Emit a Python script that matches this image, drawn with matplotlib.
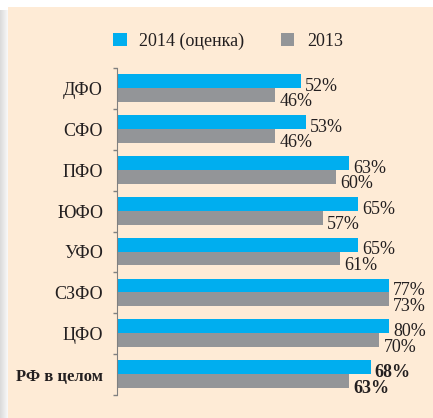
import numpy as np
import matplotlib.pyplot as plt
from matplotlib.patches import Rectangle
from matplotlib.transforms import offset_copy

plt.rcParams['font.family'] = ['Liberation Serif', 'DejaVu Serif']

# Данные
regions = ["ДФО", "СФО", "ПФО", "ЮФО", "УФО", "СЗФО", "ЦФО", "РФ в целом"]
values_2014 = [52, 53, 63, 65, 65, 77, 80, 68]
values_2013 = [46, 46, 60, 57, 61, 73, 70, 63]
label_2014 = "2014 (оценка)"
label_2013 = "2013"

blue = "#00AEEF"
gray = "#939598"
beige = "#FEEBD6"
text_color = "#231F20"
fs = 13

W, H = 433, 418
fig = plt.figure(figsize=(W / 100, H / 100), dpi=100, facecolor="white")

# Фон с тенью слева
bg = fig.add_axes([0, 0, 1, 1], zorder=-10)
bg.set_xlim(0, W)
bg.set_ylim(H, 0)
bg.axis("off")
shadow = np.linspace(0.86, 0.97, 8).reshape(1, -1)
bg.imshow(np.dstack([shadow] * 3), extent=(0, 8, H, 10), aspect="auto")
bg.add_patch(Rectangle((8, 7), W - 8, H - 7, color=beige, lw=0))

ax = fig.add_axes([117 / W, 1 - 395 / H, 272 / W, 327 / H])
ax.set_facecolor("none")

y = np.arange(len(regions))
h = 0.34
xmin, xmax = 9.5, 72.2
ax.barh(y - h / 2 - 0.01, values_2014, height=h, color=blue, label=label_2014)
ax.barh(y + h / 2 - 0.01, values_2013, height=h, color=gray, label=label_2013)

ax.set_xlim(xmin, xmax)
ax.set_ylim(len(regions) - 0.5, -0.5)

tr = offset_copy(ax.transData, fig=fig, x=4, y=0, units="dots")
for i, (a, b) in enumerate(zip(values_2014, values_2013)):
    weight = "bold" if i == len(regions) - 1 else "normal"
    ax.text(min(a, xmax), i - h / 2 + 0.12, f"{a}%", transform=tr, va="center",
            ha="left", fontsize=fs, color=text_color, fontweight=weight, clip_on=False)
    ax.text(min(b, xmax), i + h / 2 + 0.16, f"{b}%", transform=tr, va="center",
            ha="left", fontsize=fs, color=text_color, fontweight=weight, clip_on=False)

ax.set_yticks(y)
ax.set_yticklabels(regions, fontsize=fs, color=text_color)
last = ax.get_yticklabels()[-1]
last.set_fontweight("bold")
last.set_fontsize(12)
ax.tick_params(axis="y", which="major", length=0, pad=10)
ax.set_yticks(np.arange(len(regions) + 1) - 0.5, minor=True)
ax.tick_params(axis="y", which="minor", length=3, color="#808080", width=1)
ax.set_xticks([])
for s in ["top", "right", "bottom"]:
    ax.spines[s].set_visible(False)
ax.spines["left"].set_color("#808080")

fig.legend(loc="center", bbox_to_anchor=(228 / W, 1 - 41 / H), ncol=2, frameon=False,
           fontsize=fs, handlelength=0.75, handleheight=0.75, columnspacing=2.0,
           handletextpad=0.7, labelcolor=text_color)

fig.savefig("out.png", dpi=100, facecolor="white")
plt.close()
